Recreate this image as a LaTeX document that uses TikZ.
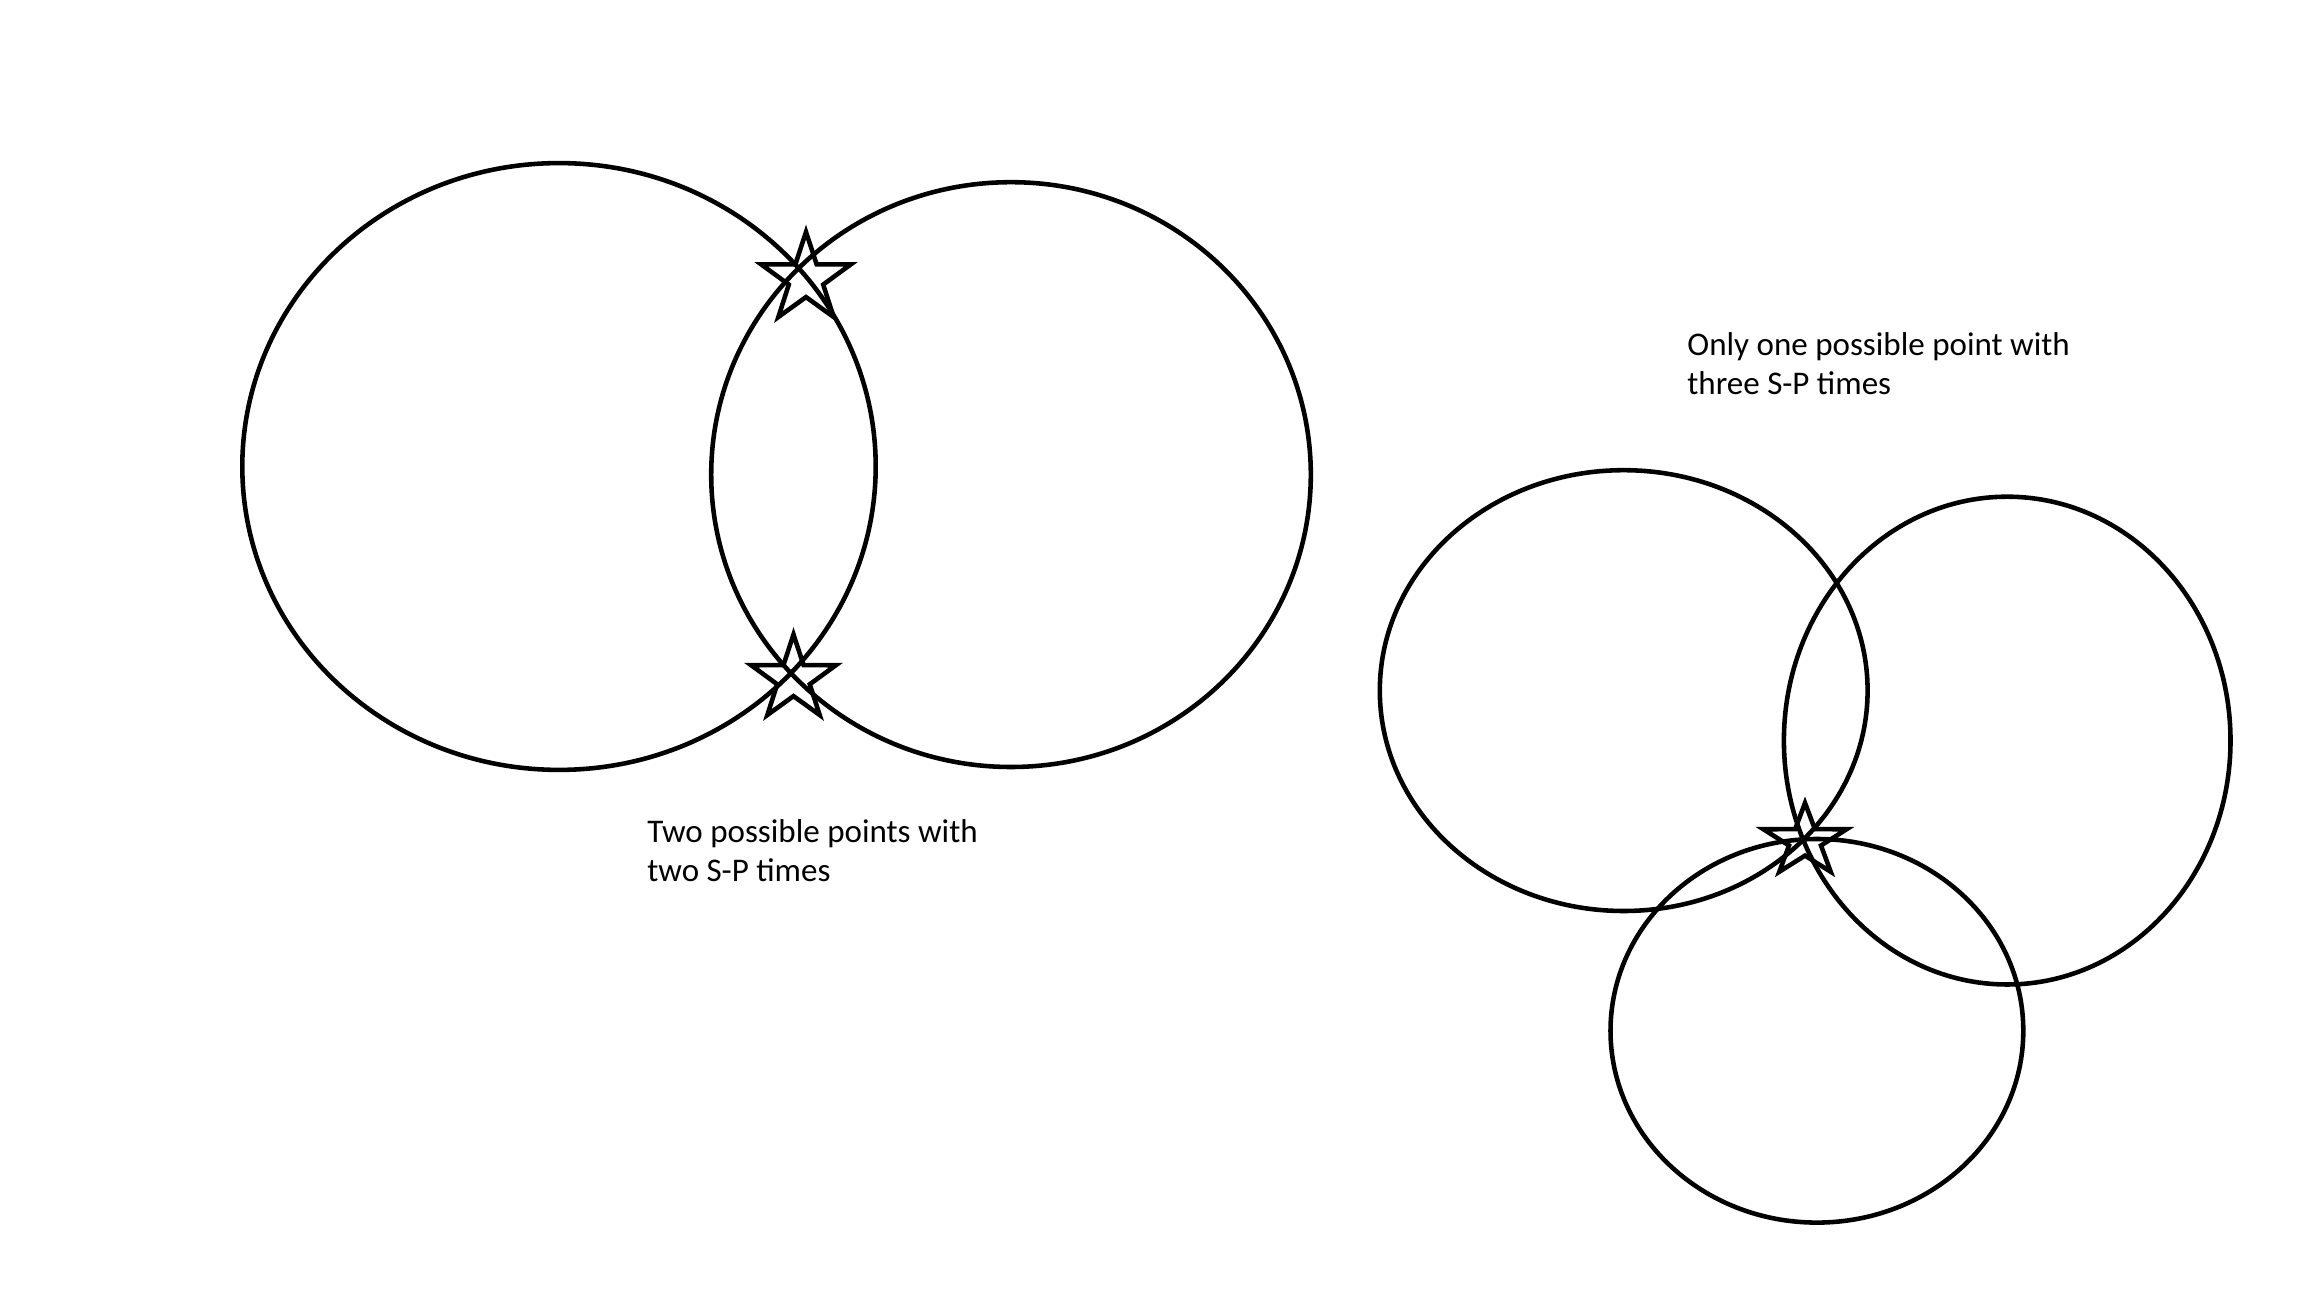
\documentclass[tikz,border=0pt]{standalone}
\usepackage{fontspec}
\setmainfont{Carlito}
\usetikzlibrary{shapes.geometric}

\begin{document}
\begin{tikzpicture}[x=0.1mm,y=-0.1mm,
  ring/.style={line width=1.3pt},
  epicentre/.style={draw,line width=1.3pt,star,star points=5,star point ratio=2.6,inner sep=0pt},
  caption/.style={anchor=base west,inner sep=0pt,align=left,font=\fontsize{9.4pt}{11.1pt}\selectfont}]
\useasboundingbox (0,0) rectangle (2304,1296);

% two stations
\draw [ring] (559,466.5) ellipse [x radius=316.7, y radius=303.4];
\draw [ring] (1011,474.6) ellipse [x radius=299.8, y radius=292.4];
\node [epicentre,minimum size=9.4mm] (upper) at (806,279) {};
\node [epicentre,minimum size=8.9mm] (lower) at (793.5,679) {};
\node [caption] (two) at (646.7,881.7) {Two possible points with\\two S-P times};

% three stations
\draw [ring] (1623.7,690.6) ellipse [x radius=243.9, y radius=220.4];
\draw [ring] (2007.2,740.6) ellipse [x radius=223.3, y radius=243.9];
\draw [ring] (1816.9,1030.8) ellipse [x radius=206.4, y radius=191.8];
\node [epicentre,minimum size=7.6mm,xscale=1.15,transform shape] (single) at (1805,841) {};
\node [caption] (three) at (1686.7,395) {Only one possible point with\\three S-P times};

\end{tikzpicture}
\end{document}
